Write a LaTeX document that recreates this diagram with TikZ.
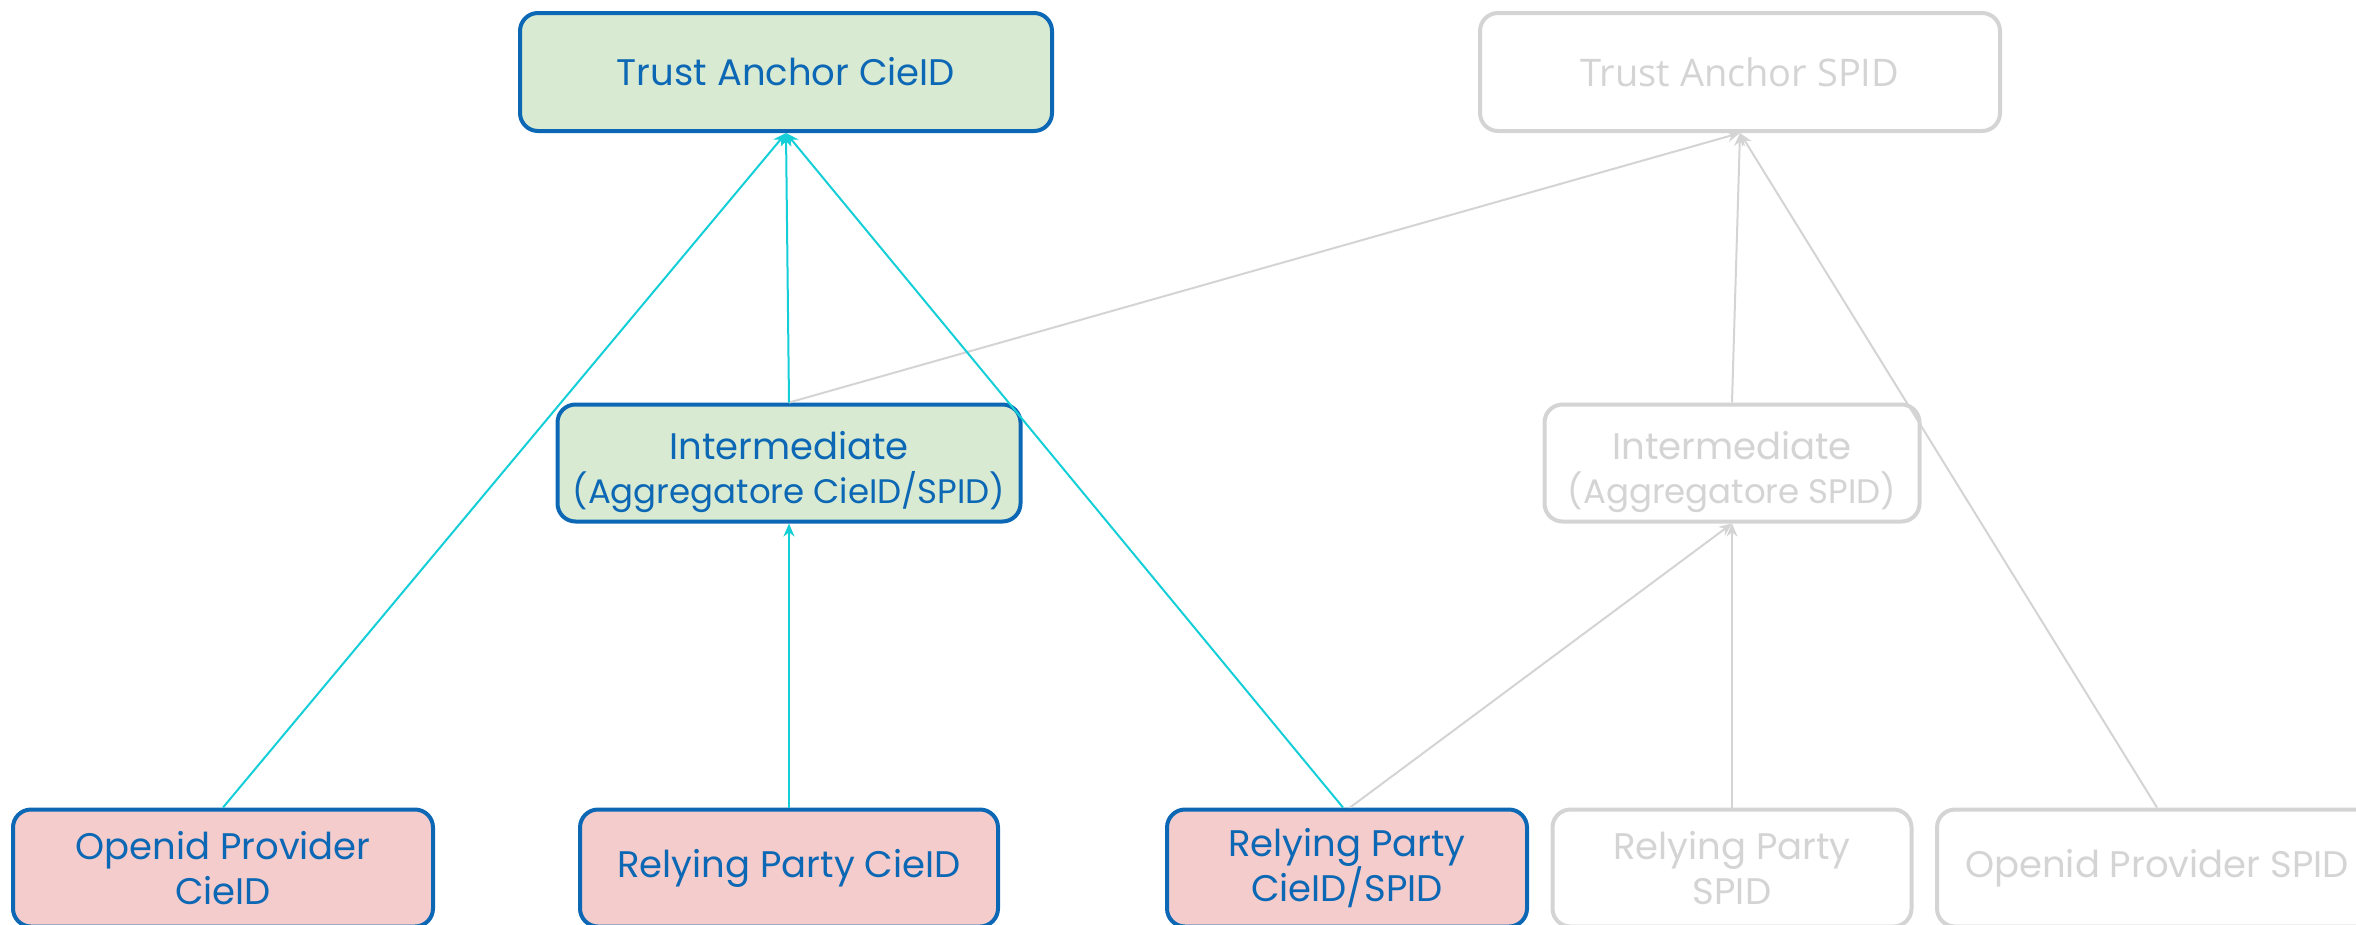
\documentclass[tikz,border=0pt]{standalone}
\usepackage{fontspec}
\setmainfont{Poppins}
\newfontfamily\tafont{Open Sans}
\usetikzlibrary{arrows.meta}
\definecolor{bblue}{RGB}{12,104,180}
\definecolor{gfill}{RGB}{217,234,211}
\definecolor{pfill}{RGB}{244,204,204}
\definecolor{cyanl}{RGB}{20,206,216}
\definecolor{lgray}{RGB}{212,212,212}
\newcommand{\smallline}{\fontsize{34}{44}\selectfont}
\tikzset{
  box/.style={draw, rounded corners=18pt, line width=4pt, align=center,
    font=\fontsize{37}{45}\selectfont, inner sep=0pt},
  act/.style={box, draw=bblue, text=bblue},
  grn/.style={act, fill=gfill},
  pnk/.style={act, fill=pfill},
  dim/.style={box, draw=lgray, text=lgray, fill=white},
  intext/.style={align=center, inner sep=0pt, font=\fontsize{37}{44}\selectfont, yshift=-9pt},
  clink/.style={draw=cyanl, line width=2pt, -{Stealth[length=13pt,width=11pt]}},
  glink/.style={draw=lgray, line width=2pt, -{Stealth[length=13pt,width=11pt]}},
}
\begin{document}
\begin{tikzpicture}[x=1pt,y=-1pt]
\useasboundingbox (0,0) rectangle (2356,924);
% nodes
\node[grn, minimum width=532pt, minimum height=118pt] (taC) at (786,72) {Trust Anchor CieID};
\node[dim, minimum width=520pt, minimum height=118pt, font=\tafont\fontsize{38}{45}\selectfont] (taS) at (1740,72) {Trust Anchor SPID};
\node[grn, minimum width=463pt, minimum height=117pt] (imC) at (789,463) {};
\node[intext, text=bblue] (imCt) at (imC.center) {Intermediate\\\smallline(Aggregatore CieID/SPID)};
\node[dim, minimum width=375pt, minimum height=117pt] (imS) at (1732,463) {};
\node[intext, text=lgray] (imSt) at (imS.center) {Intermediate\\\smallline(Aggregatore SPID)};
\node[pnk, minimum width=420pt, minimum height=117pt] (opC) at (223,868) {Openid Provider\\CieID};
\node[pnk, minimum width=418pt, minimum height=117pt] (rpC) at (789,868) {Relying Party CieID};
\node[pnk, minimum width=360pt, minimum height=117pt] (rpX) at (1347,868) {Relying Party\\CieID/SPID};
\node[dim, minimum width=359pt, minimum height=117pt] (rpS) at (1732,868) {Relying Party\\SPID};
\node[dim, minimum width=440pt, minimum height=117pt] (opS) at (2157,868) {Openid Provider SPID};
% gray links
\draw[glink] (imC.north) -- (taS.south);
\draw[glink] (imS.north) -- (taS.south);
\draw[glink] (opS.north) -- (taS.south);
\draw[glink] ([xshift=3pt]rpX.north) -- (imS.south);
\draw[glink] (rpS.north) -- (imS.south);
% cyan links
\draw[clink] (opC.north) -- (taC.south);
\draw[clink] (imC.north) -- (taC.south);
\draw[clink] ([xshift=-4pt]rpX.north) -- (taC.south);
\draw[clink] (rpC.north) -- (imC.south);
\end{tikzpicture}
\end{document}
